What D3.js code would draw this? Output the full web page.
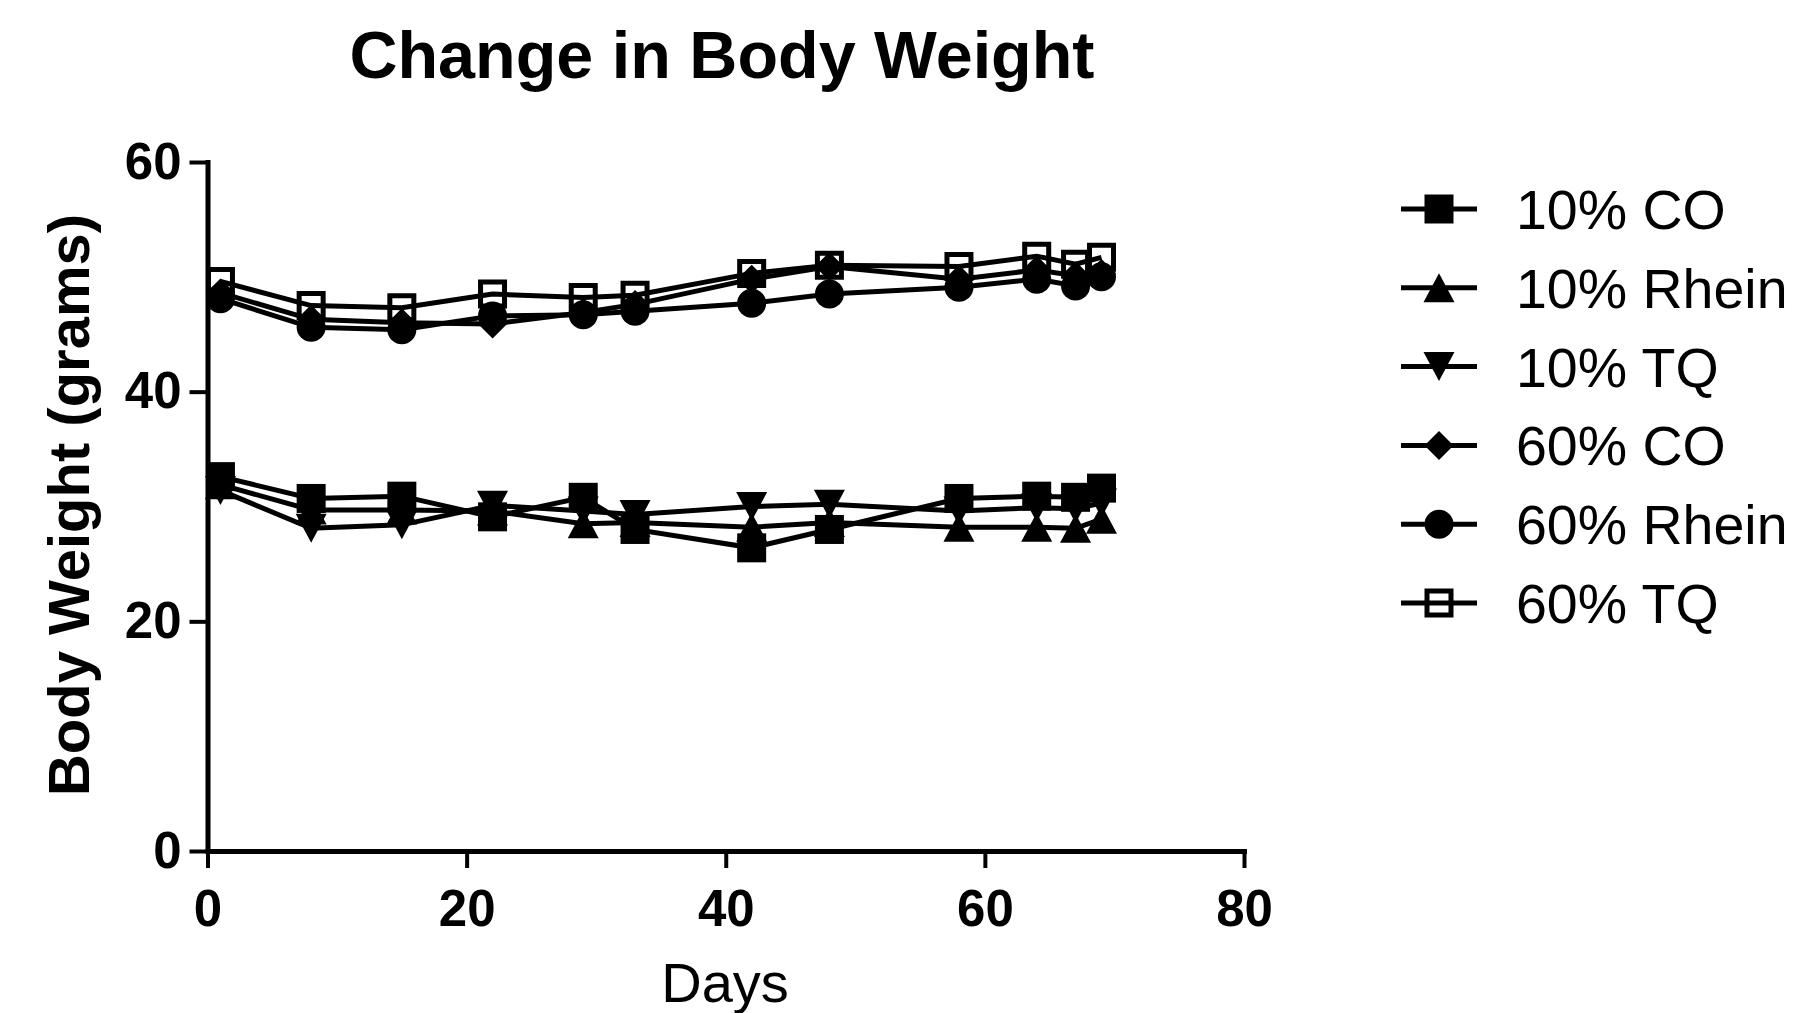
<!DOCTYPE html>
<html>
<head>
<meta charset="utf-8">
<script src="https://cdn.jsdelivr.net/npm/d3@7"></script>
<style>
  body { margin: 0; background: #fff; }
  text { font-family: Arial, 'Liberation Sans', sans-serif; fill: #000; }
</style>
</head>
<body>
<script>
// days on the x axis
const days = [1, 8, 15, 22, 29, 33, 42, 48, 58, 64, 67, 69];

// body weight (grams) per group
const co10 = [32.6, 30.7, 30.9, 29.1, 30.8, 28.0, 26.4, 28.0, 30.7, 30.9, 30.8, 31.6];
const rhein10 = [31.9, 29.7, 29.7, 29.6, 28.5, 28.6, 28.2, 28.6, 28.2, 28.2, 28.1, 28.9];
const tq10 = [31.4, 28.1, 28.4, 30.1, 29.6, 29.3, 30.0, 30.2, 29.6, 29.9, 29.8, 30.3];
const co60 = [48.6, 46.3, 46.0, 45.9, 46.9, 47.6, 49.8, 50.9, 49.8, 50.6, 50.1, 50.3];
const rhein60 = [48.1, 45.6, 45.4, 46.6, 46.7, 47.0, 47.7, 48.5, 49.1, 49.8, 49.2, 50.0];
const tq60 = [49.6, 47.5, 47.3, 48.5, 48.2, 48.4, 50.3, 51.0, 50.9, 51.8, 51.1, 51.7];

const seriesNames = ['10% CO', '10% Rhein', '10% TQ', '60% CO', '60% Rhein', '60% TQ'];
const seriesValues = [co10, rhein10, tq10, co60, rhein60, tq60];
const seriesSymbols = ['square', 'triangleUp', 'triangleDown', 'diamond', 'circle', 'openSquare'];

const xTicks = [0, 20, 40, 60, 80];
const yTicks = [0, 20, 40, 60];

const width = 1798;
const height = 1013;
const plotLeft = 207.5;
const plotRight = 1244;
const plotTop = 162;
const plotBottom = 851;

const svg = d3
  .select('body')
  .append('svg')
  .attr('width', width)
  .attr('height', height);

const x = d3.scaleLinear().domain([0, 80]).range([plotLeft, plotRight]);
const y = d3.scaleLinear().domain([0, 60]).range([plotBottom, plotTop]);

// marker outlines, s is the half size
function symbolPath(type, s) {
  switch (type) {
    case 'square':
      return `M${-s},${-s}H${s}V${s}H${-s}Z`;
    case 'openSquare':
      return `M${-s + 2.5},${-s + 2.5}H${s - 2.5}V${s - 2.5}H${-s + 2.5}Z`;
    case 'triangleUp':
      return `M0,${-s}L${s + 1},${s}L${-s - 1},${s}Z`;
    case 'triangleDown':
      return `M0,${s}L${s + 1},${-s}L${-s - 1},${-s}Z`;
    case 'diamond':
      return `M0,${-s}L${s},0L0,${s}L${-s},0Z`;
    case 'circle':
      return `M${s},0A${s},${s} 0 1,1 ${-s},0A${s},${s} 0 1,1 ${s},0Z`;
  }
}

function drawSymbol(sel, type, s) {
  sel
    .append('path')
    .attr('d', symbolPath(type, s))
    .attr('fill', type === 'openSquare' ? 'none' : '#000')
    .attr('stroke', type === 'openSquare' ? '#000' : 'none')
    .attr('stroke-width', 5);
}

// axes
const xAxis = svg
  .append('g')
  .attr('transform', `translate(0, ${plotBottom})`)
  .call(
    d3.axisBottom(x).tickValues(xTicks).tickSize(17).tickSizeOuter(0).tickPadding(22)
  );

const yAxis = svg
  .append('g')
  .attr('transform', `translate(${plotLeft}, 0)`)
  .call(
    d3.axisLeft(y).tickValues(yTicks).tickSize(18).tickSizeOuter(0).tickPadding(8)
  );

[xAxis, yAxis].forEach(ax => {
  ax.select('.domain').attr('stroke', '#000').attr('stroke-width', 5).attr('stroke-linecap', 'square');
  ax.selectAll('.tick line').attr('stroke', '#000').attr('stroke-width', 4);
  ax.selectAll('.tick text')
    .attr('fill', '#000')
    .style('font-size', '51px')
    .style('font-weight', 'bold')
    .style('font-family', "Arial, 'Liberation Sans', sans-serif");
});

// series
const line = d3
  .line()
  .x(d => x(d[0]))
  .y(d => y(d[1]));

seriesValues.forEach((vals, i) => {
  const pts = days.map((d, j) => [d, vals[j]]);
  const g = svg.append('g').attr('class', 'series');
  g.append('path')
    .datum(pts)
    .attr('d', line)
    .attr('fill', 'none')
    .attr('stroke', '#000')
    .attr('stroke-width', 5);
  g.selectAll('.pt')
    .data(pts)
    .enter()
    .append('g')
    .attr('class', 'pt')
    .attr('transform', d => `translate(${x(d[0])}, ${y(d[1])})`)
    .each(function () {
      drawSymbol(d3.select(this), seriesSymbols[i], 14.5);
    });
});

// titles
svg
  .append('text')
  .attr('x', 722)
  .attr('y', 78)
  .attr('text-anchor', 'middle')
  .style('font-size', '66.5px')
  .style('font-weight', 'bold')
  .text('Change in Body Weight');

svg
  .append('text')
  .attr('transform', 'translate(89, 505) rotate(-90)')
  .attr('text-anchor', 'middle')
  .style('font-size', '58px')
  .style('font-weight', 'bold')
  .text('Body Weight (grams)');

svg
  .append('text')
  .attr('x', 725)
  .attr('y', 1002)
  .attr('text-anchor', 'middle')
  .style('font-size', '56px')
  .text('Days');

// legend
const legend = svg.append('g').attr('transform', 'translate(1439, 209)');
seriesNames.forEach((name, i) => {
  const row = legend.append('g').attr('transform', `translate(0, ${i * 78.8})`);
  row.append('line')
    .attr('x1', -38)
    .attr('x2', 38)
    .attr('stroke', '#000')
    .attr('stroke-width', 5);
  drawSymbol(row, seriesSymbols[i], 14.5);
  row.append('text')
    .attr('x', 77)
    .attr('dy', '0.36em')
    .style('font-size', '55.5px')
    .text(name);
});
</script>
</body>
</html>
